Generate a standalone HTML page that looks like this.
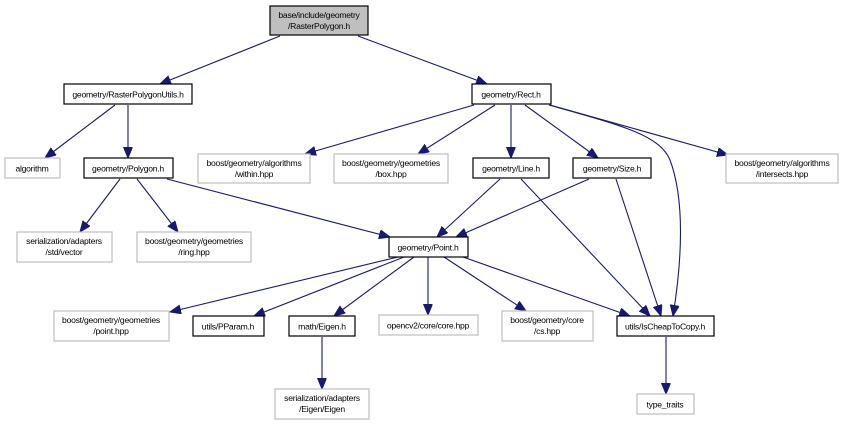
<!DOCTYPE html>
<html><head><meta charset="utf-8"><style>
html,body{margin:0;padding:0;background:#fff;}
svg{display:block;}
text{font-family:"Liberation Sans",sans-serif;font-size:8.6px;letter-spacing:-0.25px;fill:#000;text-anchor:middle;}
.k{fill:#fff;stroke:#000;stroke-width:1.2;}
.g{fill:#fff;stroke:#bfbfbf;stroke-width:1.2;}
.e{fill:none;stroke:#191970;stroke-width:1.1;marker-end:url(#a);}
</style></head><body>
<svg width="843" height="425" viewBox="0 0 843 425" xmlns="http://www.w3.org/2000/svg">
<defs>
<marker id="a" markerUnits="userSpaceOnUse" markerWidth="12" markerHeight="10" refX="11" refY="4.5" orient="auto">
<path d="M0,0 L11,4.5 L0,9 z" fill="#191970" stroke="#191970"/>
</marker>
</defs>
<line class="e" x1="280" y1="36" x2="160" y2="84"/>
<line class="e" x1="358" y1="36" x2="487" y2="84"/>
<line class="e" x1="115" y1="105" x2="45" y2="158"/>
<line class="e" x1="128" y1="105" x2="128" y2="158"/>
<line class="e" x1="120" y1="179" x2="80" y2="232"/>
<line class="e" x1="137" y1="179" x2="178" y2="232"/>
<line class="e" x1="167" y1="179" x2="390" y2="237"/>
<line class="e" x1="474" y1="105" x2="305" y2="154"/>
<line class="e" x1="495" y1="105" x2="418" y2="154"/>
<line class="e" x1="511" y1="105" x2="511" y2="158"/>
<line class="e" x1="525" y1="105" x2="598" y2="158"/>
<line class="e" x1="550" y1="105" x2="728" y2="155"/>
<path class="e" d="M549,105 C620,125 660,135 670,160 C685,200 682,260 673,316"/>
<line class="e" x1="500" y1="179" x2="437" y2="237"/>
<line class="e" x1="521" y1="179" x2="650" y2="316"/>
<line class="e" x1="589" y1="179" x2="456" y2="237"/>
<line class="e" x1="616" y1="179" x2="661" y2="316"/>
<line class="e" x1="398" y1="257" x2="170" y2="312"/>
<line class="e" x1="404" y1="257" x2="254" y2="316"/>
<line class="e" x1="414" y1="257" x2="334" y2="316"/>
<line class="e" x1="428" y1="257" x2="428" y2="315"/>
<line class="e" x1="444" y1="257" x2="526" y2="311"/>
<line class="e" x1="463" y1="257" x2="630" y2="316"/>
<line class="e" x1="322" y1="337" x2="322" y2="389"/>
<line class="e" x1="666" y1="337" x2="666" y2="394"/>
<rect x="270" y="6" width="98" height="29" fill="#bfbfbf" stroke="#000" stroke-width="1.2"/>
<text x="319" y="18">base/include/geometry</text><text x="319" y="29">/RasterPolygon.h</text>

<rect class="k" x="64" y="84" width="128" height="20"/><text x="128" y="97.5">geometry/RasterPolygonUtils.h</text>
<rect class="k" x="472" y="84" width="79" height="20"/><text x="511" y="97.5">geometry/Rect.h</text>

<rect class="g" x="5" y="158" width="55" height="20"/><text x="32" y="171.5">algorithm</text>
<rect class="k" x="84" y="158" width="89" height="20"/><text x="128" y="171.5">geometry/Polygon.h</text>
<rect class="g" x="198" y="154" width="112" height="29"/><text x="254" y="166">boost/geometry/algorithms</text><text x="254" y="177">/within.hpp</text>
<rect class="g" x="334" y="154" width="114" height="29"/><text x="391" y="166">boost/geometry/geometries</text><text x="391" y="177">/box.hpp</text>
<rect class="k" x="473" y="158" width="76" height="20"/><text x="511" y="171.5">geometry/Line.h</text>
<rect class="k" x="573" y="158" width="78" height="20"/><text x="612" y="171.5">geometry/Size.h</text>
<rect class="g" x="726" y="154" width="112" height="29"/><text x="782" y="166">boost/geometry/algorithms</text><text x="782" y="177">/intersects.hpp</text>

<rect class="g" x="17" y="232" width="95" height="30"/><text x="64" y="244">serialization/adapters</text><text x="64" y="255">/std/vector</text>
<rect class="g" x="137" y="232" width="114" height="30"/><text x="194" y="244">boost/geometry/geometries</text><text x="194" y="255">/ring.hpp</text>
<rect class="k" x="389" y="237" width="79" height="20"/><text x="428" y="250.5">geometry/Point.h</text>

<rect class="g" x="54" y="311" width="115" height="30"/><text x="111" y="323">boost/geometry/geometries</text><text x="111" y="334">/point.hpp</text>
<rect class="k" x="193" y="316" width="71" height="20"/><text x="228" y="329.5">utils/PParam.h</text>
<rect class="k" x="289" y="316" width="66" height="20"/><text x="322" y="329.5">math/Eigen.h</text>
<rect class="g" x="379" y="315" width="99" height="20"/><text x="428" y="328.5">opencv2/core/core.hpp</text>
<rect class="g" x="502" y="311" width="91" height="30"/><text x="547" y="323">boost/geometry/core</text><text x="547" y="334">/cs.hpp</text>
<rect class="k" x="617" y="316" width="97" height="20"/><text x="665" y="329.5">utils/IsCheapToCopy.h</text>

<rect class="g" x="275" y="389" width="94" height="30"/><text x="322" y="401">serialization/adapters</text><text x="322" y="412">/Eigen/Eigen</text>
<rect class="g" x="637" y="394" width="57" height="20"/><text x="665" y="407.5">type_traits</text>
</svg>
</body></html>
